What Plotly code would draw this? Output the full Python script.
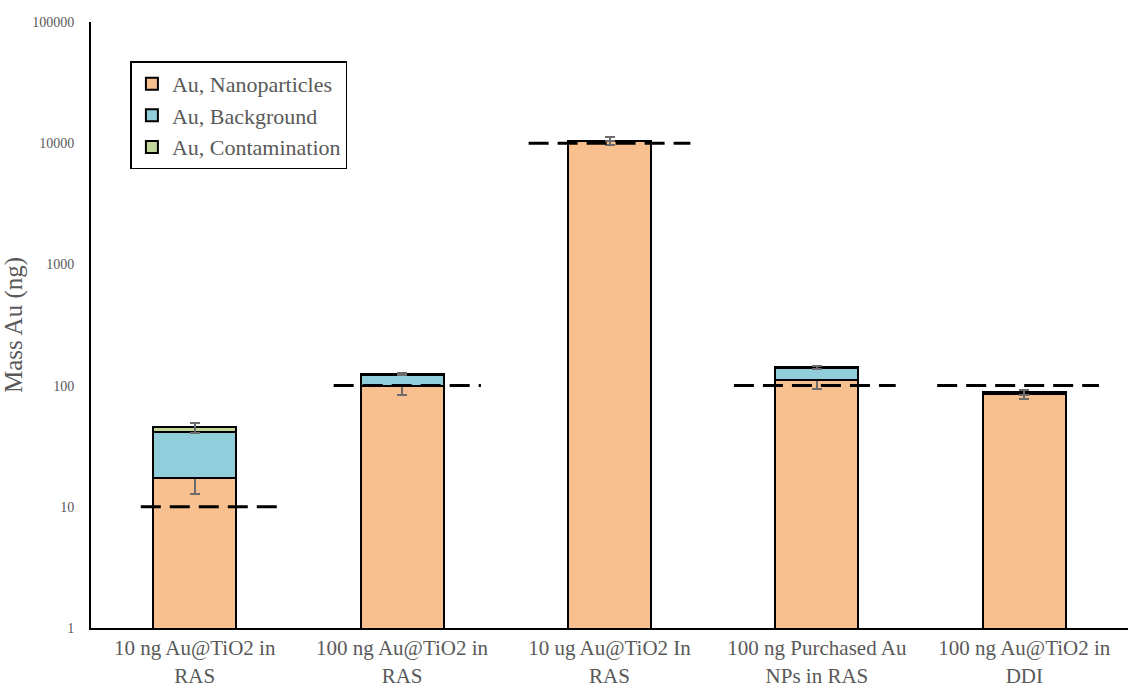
import plotly.graph_objects as go

# Sample groups (x-axis categories)
categories = [
    "10 ng Au@TiO2 in<br>RAS",
    "100 ng Au@TiO2 in<br>RAS",
    "10 ug Au@TiO2 In<br>RAS",
    "100 ng Purchased Au<br>NPs in RAS",
    "100 ng Au@TiO2 in<br>DDI",
]

# Stacked mass components (ng)
nanoparticles = [17.3, 100, 10400, 112, 85]
nanoparticles_err = [4.5, 16, 750, 19, 7]
background = [24.4, 22, 30, 27, 1.5]
contamination = [3.5, 3, 10, 3, 1.5]
total_err = [4.3, 3, 0, 4, 4]

# Nominal spiked mass for each sample (dashed reference lines)
nominal = [10, 100, 10000, 100, 100]

# Horizontal reach of each dashed line, in category units left/right of centre
reach_left = [0.26, 0.33, 0.39, 0.40, 0.42]
reach_right = [0.40, 0.38, 0.39, 0.38, 0.36]

x = list(range(len(categories)))

fill_np = "#F9C08F"
fill_bg = "#92CDDC"
fill_ct = "#C4D79B"
err_col = "#6B6B6B"
text_col = "#595959"

fig = go.Figure()

fig.add_trace(go.Bar(
    x=x, y=nanoparticles, name="Au, Nanoparticles", width=0.4,
    marker=dict(color=fill_np, line=dict(color="black", width=2)),
    error_y=dict(type="data", array=nanoparticles_err, color=err_col,
                 thickness=2, width=5),
))
fig.add_trace(go.Bar(
    x=x, y=background, name="Au, Background", width=0.4,
    marker=dict(color=fill_bg, line=dict(color="black", width=2)),
))
fig.add_trace(go.Bar(
    x=x, y=contamination, name="Au, Contamination", width=0.4,
    marker=dict(color=fill_ct, line=dict(color="black", width=2)),
    error_y=dict(type="data", array=total_err, color=err_col,
                 thickness=2, width=5),
))

# Dashed nominal-mass markers across each group
for xi, v, lo, hi in zip(x, nominal, reach_left, reach_right):
    fig.add_trace(go.Scatter(
        x=[xi - lo, xi + hi], y=[v, v], mode="lines",
        line=dict(color="black", width=3, dash="20px,9px"),
        showlegend=False, hoverinfo="skip",
    ))

fig.update_layout(
    width=1131, height=689,
    barmode="stack",
    plot_bgcolor="white", paper_bgcolor="white",
    margin=dict(l=91, r=3, t=22, b=61, autoexpand=False),
    font=dict(family="Liberation Serif, Times New Roman, serif", color=text_col),
    legend=dict(
        x=0.038, y=0.935, xanchor="left", yanchor="top",
        bgcolor="white", bordercolor="black", borderwidth=1.5,
        font=dict(size=22, color=text_col),
        traceorder="normal", tracegroupgap=0,
    ),
    showlegend=True,
)

fig.update_xaxes(
    tickvals=x, ticktext=categories, range=[-0.5, 4.5],
    showline=True, linecolor="black", linewidth=2,
    ticks="", showgrid=False, zeroline=False, automargin=False,
    ticklabelstandoff=0,
    tickfont=dict(size=21, color=text_col),
)
fig.update_yaxes(
    type="log", range=[0, 5],
    tickvals=[1, 10, 100, 1000, 10000, 100000],
    ticktext=["1", "10", "100", "1000", "10000", "100000"],
    showline=True, linecolor="black", linewidth=2,
    ticks="", showgrid=False, zeroline=False, automargin=False,
    ticklabelstandoff=12,
    tickfont=dict(size=14, color=text_col),
    title=dict(text="Mass Au (ng)", font=dict(size=25, color=text_col), standoff=4),
)

fig.write_html("out.html")
